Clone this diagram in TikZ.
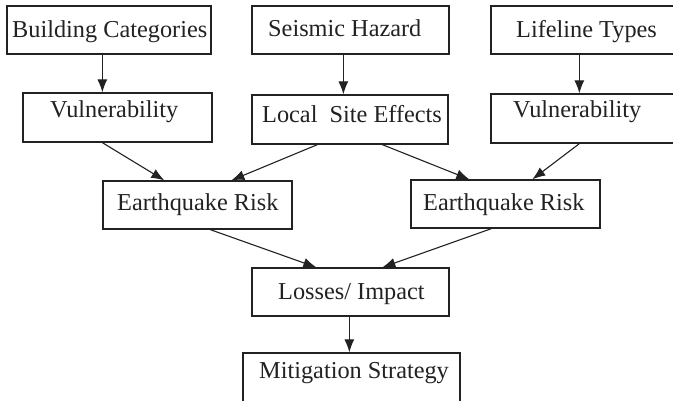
\documentclass[tikz,border=0pt]{standalone}
\usepackage{fontspec}
\setmainfont{Liberation Serif}
\usetikzlibrary{arrows.meta}
\definecolor{ink}{HTML}{222222}
\begin{document}
\begin{tikzpicture}[x=1pt,y=-1pt,
  box/.style={draw=ink,line width=1.3pt,rectangle,inner sep=0pt,minimum height=48pt},
  lbl/.style={anchor=base west,inner sep=0pt,text=ink,font=\fontsize{24.3}{29}\selectfont},
  arr/.style={draw=ink,line width=1.1pt,-{Latex[length=13pt,width=10pt]}}]
\useasboundingbox[fill=white] (0,0) rectangle (673,400);
% boxes
\node[box,minimum width=204pt] (bc) at (109,30) {};
\node[box,minimum width=197pt] (sh) at (350.5,30) {};
\node[box,minimum width=192pt] (lt) at (587,30) {};
\node[box,minimum width=189pt,minimum height=49pt] (vl) at (117.5,117.5) {};
\node[box,minimum width=196pt,minimum height=49pt] (ls) at (350,119.5) {};
\node[box,minimum width=192pt,minimum height=49pt] (vr) at (587,118.5) {};
\node[box,minimum width=189pt] (el) at (197.5,205) {};
\node[box,minimum width=189pt] (er) at (505.5,204) {};
\node[box,minimum width=197pt] (li) at (350.5,292) {};
\node[box,minimum width=217pt,minimum height=60pt] (ms) at (351.5,383) {};
% labels
\node[lbl] (bct) at (12,37) {Building Categories};
\node[lbl] (sht) at (268,36) {Seismic Hazard};
\node[lbl] (ltt) at (516,37) {Lifeline Types};
\node[lbl] (vlt) at (50,117) {Vulnerability};
\node[lbl] (lst) at (262,122.5) {Local~\ Site Effects};
\node[lbl] (vrt) at (513,117) {Vulnerability};
\node[lbl] (elt) at (117,210) {Earthquake Risk};
\node[lbl] (ert) at (423,210) {Earthquake Risk};
\node[lbl] (lit) at (278,299) {Losses/ Impact};
\node[lbl] (mst) at (259,378) {Mitigation Strategy};
% connectors
\draw[arr] ([xshift=96pt]bc.south west) -- ([xshift=80pt]vl.north west);
\draw[arr] ([xshift=92pt]sh.south west) -- ([xshift=92pt]ls.north west);
\draw[arr] ([xshift=89pt]lt.south west) -- ([xshift=89pt]vr.north west);
\draw[arr] ([xshift=80pt]vl.south west) -- ([xshift=62pt]el.north west);
\draw[arr] ([xshift=66pt]ls.south west) -- ([xshift=129pt]el.north west);
\draw[arr] ([xshift=131pt]ls.south west) -- ([xshift=59pt]er.north west);
\draw[arr] ([xshift=89pt]vr.south west) -- ([xshift=122pt]er.north west);
\draw[arr] ([xshift=108pt]el.south west) -- ([xshift=65pt]li.north west);
\draw[arr] ([xshift=81pt]er.south west) -- ([xshift=131pt]li.north west);
\draw[arr] ([xshift=98pt]li.south west) -- ([xshift=107pt]ms.north west);
\end{tikzpicture}
\end{document}
